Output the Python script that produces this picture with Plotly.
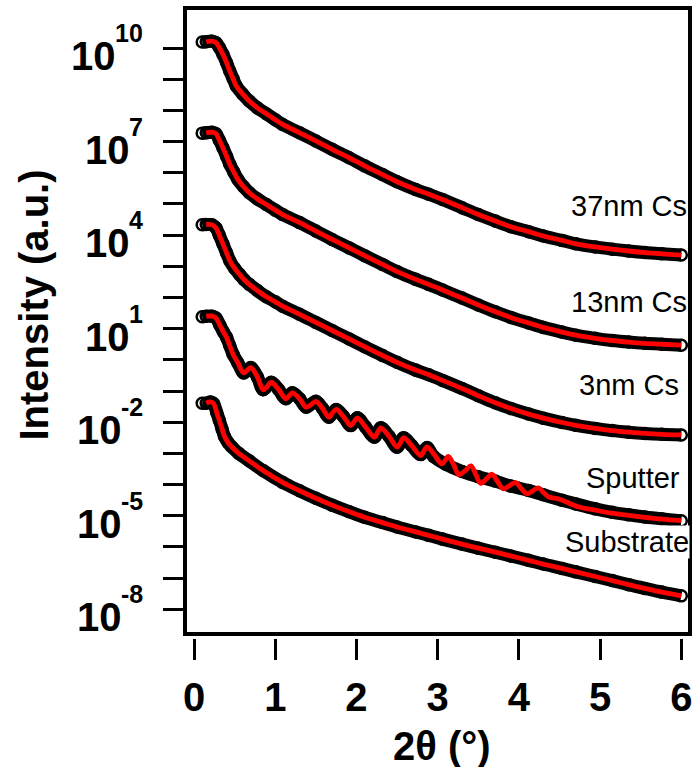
import numpy as np
import plotly.graph_objects as go

# ---- measured reflectivity curves (2theta in degrees, log10 intensity, offset per sample) ----
x_37nm = [0.10, 0.15, 0.22, 0.27, 0.31, 0.355, 0.40, 0.44, 0.48, 0.52, 0.60, 0.68, 0.78, 0.89,
          1.00, 1.09, 1.30, 1.50, 1.70, 1.91, 2.10, 2.32, 2.50, 2.73, 2.89, 3.06, 3.30, 3.50,
          3.71, 3.90, 4.12, 4.30, 4.53, 4.70, 4.94, 5.15, 5.35, 5.55, 5.76, 6.00]
lg_37nm = [10.19, 10.20, 10.22, 10.17, 10.02, 9.80, 9.53, 9.26, 9.02, 8.78, 8.52, 8.30, 8.08, 7.89,
           7.70, 7.55, 7.28, 7.02, 6.75, 6.48, 6.22, 5.94, 5.71, 5.46, 5.31, 5.14, 4.88, 4.66,
           4.45, 4.27, 4.11, 3.97, 3.83, 3.72, 3.62, 3.55, 3.49, 3.44, 3.40, 3.36]

x_13nm = [0.10, 0.15, 0.22, 0.27, 0.31, 0.355, 0.40, 0.44, 0.49, 0.54, 0.61, 0.68, 0.78, 0.89,
          1.00, 1.09, 1.30, 1.50, 1.70, 1.91, 2.10, 2.32, 2.50, 2.73, 2.89, 3.06, 3.30, 3.50,
          3.71, 3.90, 4.12, 4.30, 4.53, 4.70, 4.94, 5.15, 5.35, 5.55, 5.76, 6.00]
lg_13nm = [7.27, 7.28, 7.30, 7.25, 7.05, 6.80, 6.53, 6.27, 6.02, 5.78, 5.55, 5.36, 5.16, 4.98,
           4.80, 4.66, 4.40, 4.13, 3.86, 3.59, 3.34, 3.06, 2.83, 2.58, 2.42, 2.24, 1.98, 1.76,
           1.54, 1.36, 1.18, 1.04, 0.89, 0.79, 0.69, 0.62, 0.57, 0.53, 0.50, 0.47]

x_3nm = [0.10, 0.15, 0.22, 0.27, 0.31, 0.355, 0.40, 0.44, 0.50, 0.56, 0.62, 0.68, 0.78, 0.89,
         1.00, 1.09, 1.30, 1.50, 1.70, 1.91, 2.10, 2.32, 2.50, 2.73, 2.89, 3.06, 3.30, 3.50,
         3.71, 3.90, 4.12, 4.30, 4.53, 4.70, 4.94, 5.15, 5.35, 5.55, 5.76, 6.00]
lg_3nm = [4.33, 4.34, 4.33, 4.23, 4.00, 3.72, 3.43, 3.18, 2.93, 2.74, 2.56, 2.42, 2.22, 2.02,
          1.86, 1.72, 1.46, 1.20, 0.94, 0.67, 0.42, 0.14, -0.08, -0.33, -0.48, -0.66, -0.92, -1.15,
          -1.38, -1.56, -1.74, -1.87, -2.01, -2.10, -2.20, -2.27, -2.32, -2.36, -2.39, -2.41]

x_sputter = [0.10, 0.15, 0.22, 0.27, 0.32, 0.36, 0.40, 0.44, 0.48, 0.54, 0.61, 0.66, 0.70, 0.78,
             0.85, 0.95, 1.04, 1.13, 1.21, 1.30, 1.38, 1.50, 1.58, 1.66, 1.75, 1.84, 1.93, 2.01,
             2.11, 2.22, 2.30, 2.40, 2.50, 2.58, 2.68, 2.79, 2.87, 2.95, 3.10, 3.30, 3.50, 3.71,
             3.90, 4.12, 4.30, 4.53, 4.70, 4.94, 5.15, 5.35, 5.55, 5.76, 6.00]
lg_sputter = [1.38, 1.40, 1.40, 1.34, 1.10, 0.90, 0.72, 0.45, 0.18, -0.10, -0.42, -0.32, -0.25, -0.55,
              -0.96, -0.72, -0.95, -1.25, -1.06, -1.25, -1.52, -1.33, -1.55, -1.84, -1.59, -1.82, -2.11, -1.86,
              -2.15, -2.48, -2.18, -2.45, -2.80, -2.50, -2.75, -3.04, -2.81, -3.10, -3.35, -3.58, -3.75, -3.89,
              -4.05, -4.19, -4.33, -4.50, -4.62, -4.78, -4.89, -4.97, -5.04, -5.10, -5.16]

x_substrate = [0.10, 0.15, 0.20, 0.24, 0.28, 0.31, 0.345, 0.375, 0.42, 0.46, 0.55, 0.68, 0.85, 1.09,
               1.30, 1.50, 1.70, 1.91, 2.10, 2.32, 2.50, 2.73, 2.89, 3.06, 3.30, 3.50, 3.71, 3.90,
               4.12, 4.30, 4.53, 4.70, 4.94, 5.15, 5.35, 5.55, 5.76, 6.00]
lg_substrate = [-1.39, -1.39, -1.35, -1.40, -1.70, -1.93, -2.22, -2.46, -2.66, -2.78, -3.00, -3.24, -3.55, -3.93,
                -4.20, -4.44, -4.66, -4.87, -5.05, -5.22, -5.36, -5.52, -5.63, -5.75, -5.91, -6.04, -6.17, -6.29,
                -6.43, -6.55, -6.69, -6.80, -6.95, -7.08, -7.21, -7.33, -7.45, -7.57]

# ---- model fit for the sputtered film (fringes persist beyond the measured envelope) ----
x_sputter_fit = [0.15, 0.22, 0.27, 0.32, 0.36, 0.40, 0.44, 0.48, 0.54, 0.61, 0.66, 0.70, 0.78,
                 0.85, 0.90, 0.95, 1.04, 1.13, 1.17, 1.21, 1.30, 1.38, 1.44, 1.50, 1.58, 1.66, 1.70,
                 1.75, 1.84, 1.93, 1.97, 2.01, 2.11, 2.22, 2.26, 2.30, 2.40, 2.50, 2.54, 2.58, 2.68,
                 2.79, 2.83, 2.87, 2.96, 3.05, 3.09, 3.13, 3.20, 3.26, 3.34, 3.41, 3.47, 3.53, 3.60,
                 3.67, 3.74, 3.81, 3.88, 3.96, 4.03, 4.10, 4.17, 4.24, 4.30, 4.37, 4.50, 4.73, 4.94,
                 5.14, 5.35, 5.55, 5.76, 6.00]
lg_sputter_fit = [1.40, 1.40, 1.34, 1.10, 0.90, 0.72, 0.45, 0.18, -0.10, -0.42, -0.32, -0.25, -0.55,
                  -0.96, -0.86, -0.72, -0.95, -1.25, -1.16, -1.06, -1.25, -1.52, -1.44, -1.33, -1.55, -1.84, -1.72,
                  -1.59, -1.82, -2.11, -1.99, -1.86, -2.15, -2.48, -2.33, -2.18, -2.45, -2.80, -2.66, -2.50, -2.75,
                  -3.07, -2.93, -2.79, -3.05, -3.34, -3.23, -3.10, -3.38, -3.68, -3.55, -3.40, -3.68, -3.96, -3.82,
                  -3.67, -3.92, -4.14, -4.04, -3.94, -4.13, -4.30, -4.20, -4.11, -4.25, -4.40, -4.47, -4.71, -4.82,
                  -4.92, -4.99, -5.05, -5.11, -5.16]

sample_labels = ["37nm Cs", "13nm Cs", "3nm Cs", "Sputter", "Substrate"]

y_tick_exponents = list(range(-8, 11))
y_labelled_exponents = [10, 7, 4, 1, -2, -5, -8]
x_tick_values = [0, 1, 2, 3, 4, 5, 6]

FONT_FAMILY = "Liberation Sans, Arial, sans-serif"
BOLD = dict(family=FONT_FAMILY, size=40, color="black", weight="bold")
EXP_FONT = dict(family=FONT_FAMILY, size=25, color="black", weight="bold")

fig = go.Figure()

curves = [
    (x_37nm, lg_37nm, x_37nm[1:], lg_37nm[1:]),
    (x_13nm, lg_13nm, x_13nm[1:], lg_13nm[1:]),
    (x_3nm, lg_3nm, x_3nm[1:], lg_3nm[1:]),
    (x_sputter, lg_sputter, x_sputter_fit, lg_sputter_fit),
    (x_substrate, lg_substrate, x_substrate[1:], lg_substrate[1:]),
]

for name, (xd, lgd, xf, lgf) in zip(sample_labels, curves):
    yd = 10.0 ** np.array(lgd)
    yf = 10.0 ** np.array(lgf)
    # measured points: dense open circles forming a thick black band
    fig.add_trace(go.Scatter(
        x=xd, y=yd, mode="lines+markers", name=name, showlegend=False,
        line=dict(color="black", width=13, shape="spline", smoothing=1.0),
        marker=dict(symbol="circle-open", size=11, color="black", line=dict(width=2.5)),
    ))
    # fitted reflectivity
    fig.add_trace(go.Scatter(
        x=xf, y=yf, mode="lines", name=name + " fit", showlegend=False,
        line=dict(color="#ff0000", width=4.8, shape="spline", smoothing=1.0),
    ))

paper_h = 630.0
frame_bottom = 4.0 / paper_h

fig.update_layout(
    width=695, height=767,
    margin=dict(l=185, r=3, t=8, b=129, pad=0),
    paper_bgcolor="white", plot_bgcolor="white",
    showlegend=False,
    xaxis=dict(
        range=[-0.1116, 6.107], anchor="free", position=0,
        showline=False, showgrid=False, zeroline=False,
        tickmode="array", tickvals=x_tick_values,
        ticks="outside", ticklen=21, tickwidth=3, tickcolor="black",
        tickfont=BOLD, ticklabelstandoff=3,
    ),
    yaxis=dict(
        type="log", range=[-8.793, 11.283], domain=[frame_bottom, 1],
        showline=False, showgrid=False, zeroline=False,
        tickmode="array",
        tickvals=[10.0 ** k for k in y_tick_exponents],
        ticktext=["" for k in y_tick_exponents],
        ticks="outside", ticklen=21, tickwidth=3, tickcolor="black",
    ),
)

# plot frame
fig.add_shape(type="rect", xref="paper", yref="paper", x0=0, x1=1, y0=frame_bottom, y1=1,
              line=dict(color="black", width=4), fillcolor="rgba(0,0,0,0)", layer="above")


def px_to_paper_x(px):
    return (px - 185.0) / 507.0


def px_to_paper_y(py):
    return (638.0 - py) / paper_h


# y tick labels: base "10" with a raised exponent, right-aligned left of the ticks
adv = {"0": 0.556, "1": 0.556, "2": 0.556, "4": 0.556, "5": 0.556, "7": 0.556, "8": 0.556, "-": 0.333}
for k in y_labelled_exponents:
    exp_text = str(k)
    exp_w = sum(adv[c] for c in exp_text) * EXP_FONT["size"]
    exp_right = 143.0
    fig.add_annotation(text=exp_text, xref="paper", yref="y", x=px_to_paper_x(exp_right), y=k,
                       xanchor="right", yanchor="middle", yshift=15, showarrow=False,
                       font=EXP_FONT, borderpad=0, borderwidth=0)
    fig.add_annotation(text="10", xref="paper", yref="y", x=px_to_paper_x(exp_right - exp_w + 1), y=k,
                       xanchor="right", yanchor="middle", yshift=-8, showarrow=False,
                       font=BOLD, borderpad=0, borderwidth=0)

# axis titles
fig.add_annotation(text="Intensity (a.u.)", xref="paper", yref="paper",
                   x=px_to_paper_x(33), y=px_to_paper_y(305), xanchor="center", yanchor="middle",
                   textangle=-90, showarrow=False, font=BOLD)
fig.add_annotation(text="2θ (°)", xref="paper", yref="paper",
                   x=px_to_paper_x(443), y=px_to_paper_y(746), xanchor="center", yanchor="middle",
                   showarrow=False, font=BOLD)

# sample labels
label_font = dict(family=FONT_FAMILY, size=29, color="black")
label_pos = [(690, 206), (690, 302), (682, 385), (683, 478), (692, 542)]
for text, (rx, cy) in zip(sample_labels, label_pos):
    fig.add_annotation(text=text, xref="paper", yref="paper",
                       x=px_to_paper_x(rx), y=px_to_paper_y(cy), xanchor="right", yanchor="middle",
                       showarrow=False, font=label_font, borderpad=0,
                       bgcolor="white" if text == "Substrate" else "rgba(0,0,0,0)")

fig.write_html("out.html")
